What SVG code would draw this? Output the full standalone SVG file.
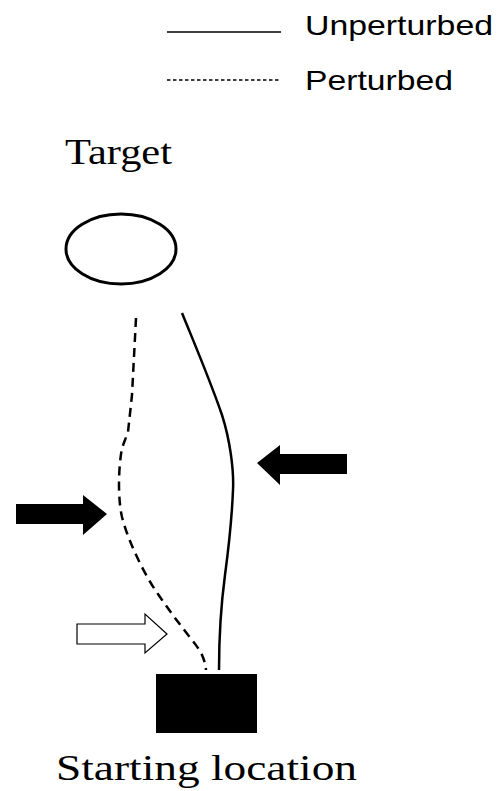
<svg xmlns="http://www.w3.org/2000/svg" width="503" height="791" viewBox="0 0 503 791">
  <style>
    .sans { font-family: "Liberation Sans", Arial, sans-serif; font-size: 28px; fill: #000; }
    .serif { font-family: "Liberation Serif", "Times New Roman", serif; font-size: 36px; fill: #000; }
    .path { fill: none; stroke: #000; stroke-width: 2.5; stroke-linejoin: round; }
    .dash { stroke-dasharray: 9 6; }
    .thin { fill: none; stroke: #000; stroke-width: 1.3; }
  </style>
  <rect width="503" height="791" fill="#fff"/>

  <!-- legend -->
  <g id="legend">
    <line class="thin" x1="167" y1="32" x2="281" y2="32"/>
    <text class="sans" x="305" y="35" textLength="188" lengthAdjust="spacingAndGlyphs">Unperturbed</text>
    <line class="thin" x1="167" y1="80" x2="281" y2="80" stroke-dasharray="3.5 2.5"/>
    <text class="sans" x="305" y="90" textLength="148" lengthAdjust="spacingAndGlyphs">Perturbed</text>
  </g>

  <!-- target -->
  <g id="target">
    <text class="serif" x="65" y="164" textLength="107" lengthAdjust="spacingAndGlyphs">Target</text>
    <ellipse cx="121" cy="249" rx="55" ry="35" fill="none" stroke="#000" stroke-width="3"/>
  </g>

  <!-- start -->
  <g id="start">
    <rect x="156" y="674" width="101" height="59" fill="#000"/>
    <text class="serif" x="56" y="780" textLength="301" lengthAdjust="spacingAndGlyphs">Starting location</text>
  </g>

  <!-- movement paths -->
  <g id="connectors">
    <path id="unperturbed" class="path" d="M182,313 C195,345 210,380 222,415 C230,440 234,470 233,490 C232,515 229,545 225,575 C221,605 219,630 219,670"/>
    <path id="perturbed" class="path dash" d="M136,318 L132,395 L128,432 L122,448 C118,470 118,500 122,517 C128,540 140,565 152,585 C165,605 180,625 192,640 C202,652 205,660 206,670"/>
  </g>

  <!-- force arrows -->
  <g id="arrow-right-push">
    <polygon points="347,454 280,454 280,445 257,463 280,485 280,474 347,474" fill="#000"/>
  </g>
  <g id="arrow-left-push">
    <polygon points="16,504 83,504 83,495 107,514 83,535 83,524 16,524" fill="#000"/>
  </g>
  <g id="arrow-open">
    <polygon points="77,624 145,624 145,614 167,634 145,653 145,644 77,644" fill="#fff" stroke="#000" stroke-width="1.2"/>
  </g>
</svg>
